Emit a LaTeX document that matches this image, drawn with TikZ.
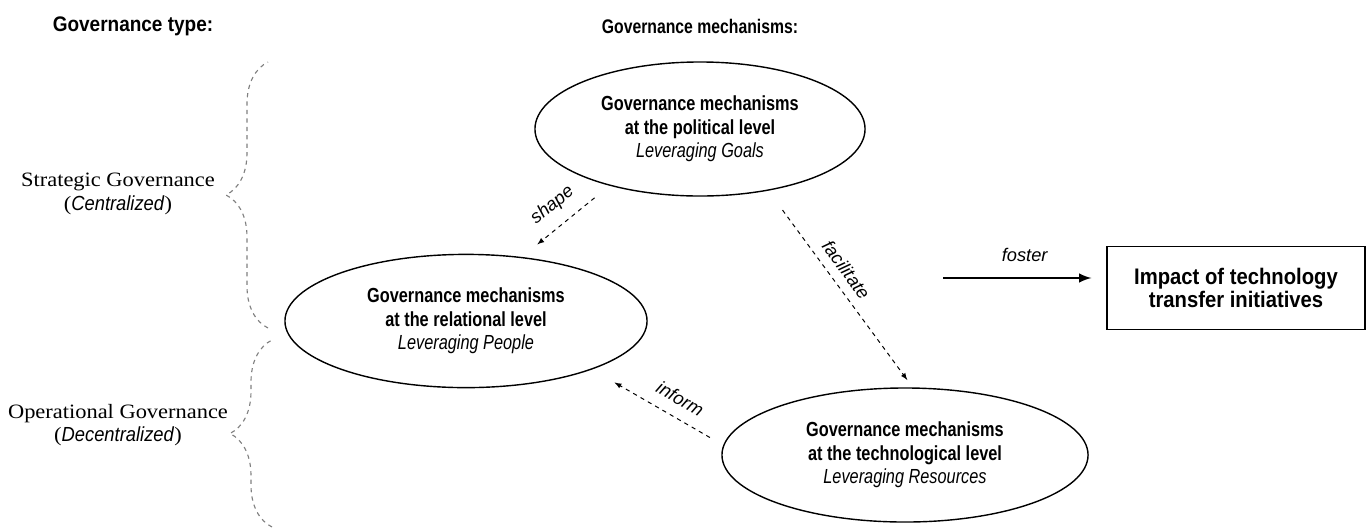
\documentclass[tikz,border=0pt]{standalone}
\usepackage{fontspec}
\setmainfont[FakeStretch=1.1]{Liberation Serif}
\setsansfont[FakeStretch=0.9]{Liberation Sans}
\newfontfamily\narrowsf[FakeStretch=0.8]{Liberation Sans}
\newfontfamily\plainsf{Liberation Sans}
\usepackage{tikz}
\usetikzlibrary{shapes,arrows,decorations.pathreplacing}

\begin{document}
\begin{tikzpicture}[x=0.025cm,y=-0.025cm,
	mech/.style={ellipse,draw,line width=1pt,inner sep=0pt,outer sep=0pt,align=center,font=\narrowsf\fontsize{14.5}{16.7}\selectfont},
	head/.style={font=\sffamily\bfseries\fontsize{15}{17}\selectfont},
	kind/.style={align=center,font=\fontsize{14.5}{16.5}\selectfont},
	flow/.style={-latex,dashed,line width=0.7pt},
	verb/.style={font=\plainsf\itshape\fontsize{13}{15}\selectfont},
	gbrace/.style={decorate,decoration={brace,amplitude=1.05cm},gray,dashed,line width=0.8pt}]
	\useasboundingbox (0,0) rectangle (1372,528);
	% column heads
	\node[head] (typehead) at (133,26) {Governance type:};
	\node[head,font=\narrowsf\bfseries\fontsize{14}{17}\selectfont] (mechhead) at (700,26) {Governance mechanisms:};
	% governance types
	\node[kind] (strat) at (118,194) {Strategic Governance\\(\textsf{\itshape Centralized})};
	\node[kind] (oper) at (118,425) {Operational Governance\\(\textsf{\itshape Decentralized})};
	\coordinate (b1top) at (268,62);
	\coordinate (b1bot) at (268,328);
	\coordinate (b2top) at (272,340);
	\coordinate (b2bot) at (272,527);
	\draw[gbrace] (b1bot) -- (b1top);
	\draw[gbrace] (b2bot) -- (b2top);
	% mechanisms
	\node[mech,minimum width=8.25cm,minimum height=3.35cm] (pol) at (700,129) {\textbf{Governance mechanisms}\\\textbf{at the political level}\\\textit{Leveraging Goals}};
	\node[mech,minimum width=9.05cm,minimum height=3.33cm] (rel) at (466,321) {\textbf{Governance mechanisms}\\\textbf{at the relational level}\\\textit{Leveraging People}};
	\node[mech,minimum width=9.15cm,minimum height=3.35cm] (tech) at (905,455) {\textbf{Governance mechanisms}\\\textbf{at the technological level}\\\textit{Leveraging Resources}};
	\node[draw,line width=1pt,minimum width=6.45cm,minimum height=2.075cm,align=center,font=\sffamily\bfseries\fontsize{16}{16.5}\selectfont] (impact) at (1236,288) {Impact of technology\\transfer initiatives};
	% links
	\draw[flow,shorten <=0.5cm,shorten >=0.52cm] (pol.212) -- node[verb,sloped,above=5pt] {shape} (rel.49);
	\draw[flow,shorten <=0.62cm,shorten >=0.25cm] (pol.-42) -- node[verb,sloped,above=3pt,pos=0.45] {facilitate} (tech.83);
	\draw[flow,shorten <=0.4cm,shorten >=0.67cm] (tech.177) -- node[verb,sloped,above=5pt,pos=0.4] {inform} (rel.-21);
	\coordinate (fstart) at (943,278);
	\draw[-latex,line width=2pt,shorten >=0.37cm] (fstart) -- node[verb,above=7pt] {foster} (fstart -| impact.west);
\end{tikzpicture}
\end{document}
